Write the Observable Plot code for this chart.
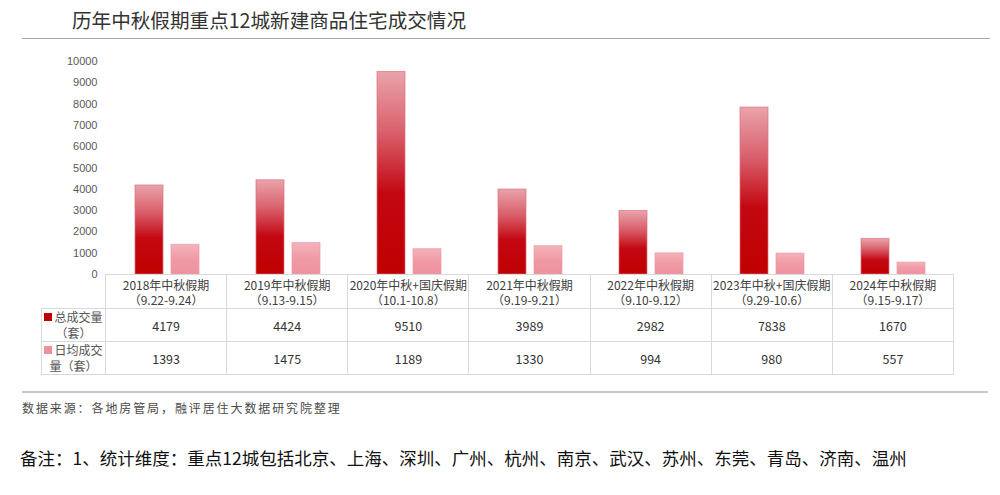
<!DOCTYPE html>
<html>
<head>
<meta charset="utf-8">
<script src="https://cdn.jsdelivr.net/npm/d3@7"></script>
<script src="https://cdn.jsdelivr.net/npm/@observablehq/plot@0.6"></script>
<style>
  body { margin: 0; background: #fff; font-family: "Noto Sans CJK SC", "Noto Sans", sans-serif; }
  #page { position: relative; width: 1000px; height: 495px; overflow: hidden; background: #fff; }
  #title { position: absolute; left: 72px; top: 6px; font-size: 19.6px; line-height: 28px; color: #333; }
  #rule1 { position: absolute; left: 22px; top: 38px; width: 968px; height: 0; border-top: 1px solid #a6a6a6; }
  #chart { position: absolute; left: 0; top: 45px; }
  #chart svg { overflow: visible; }
  #tbl { position: absolute; left: 41px; top: 274px; border-collapse: collapse; table-layout: fixed; width: 912px; }
  #tbl td { border: 1px solid #d9d9d9; text-align: center; color: #404040; font-size: 12px; line-height: 15px; padding: 0; white-space: nowrap; }
  #tbl tr.h td { height: 33px; }
  #tbl tr.r td { height: 32px; font-size: 12.5px; color: #333; }
  #tbl td.corner { border-top: hidden; border-left: hidden; }
  #tbl tr.r td.lab { font-size: 12px; line-height: 16px; color: #555; }
  .sw { display: inline-block; width: 8px; height: 8px; margin-right: 2px; vertical-align: 1px; }
  #rule2 { position: absolute; left: 22px; top: 391px; width: 966px; height: 0; border-top: 2px solid #c9c9c9; }
  #source { position: absolute; left: 22px; top: 399px; font-size: 12px; line-height: 18px; color: #4a4a4a; letter-spacing: 1.9px; }
  #note { position: absolute; left: 20px; top: 446px; font-size: 17.5px; line-height: 24px; color: #111; }
</style>
</head>
<body>
<div id="page">
  <div id="title">历年中秋假期重点12城新建商品住宅成交情况</div>
  <div id="rule1"></div>
  <div id="chart"></div>
  <table id="tbl"></table>
  <div id="rule2"></div>
  <div id="source">数据来源：各地房管局，融评居住大数据研究院整理</div>
  <div id="note">备注：1、统计维度：重点12城包括北京、上海、深圳、广州、杭州、南京、武汉、苏州、东莞、青岛、济南、温州</div>
</div>
<script>
// ---- data ----
const periods = ["2018年中秋假期", "2019年中秋假期", "2020年中秋+国庆假期", "2021年中秋假期", "2022年中秋假期", "2023年中秋+国庆假期", "2024年中秋假期"];
const dateRanges = ["（9.22-9.24）", "（9.13-9.15）", "（10.1-10.8）", "（9.19-9.21）", "（9.10-9.12）", "（9.29-10.6）", "（9.15-9.17）"];
const totalDeals = [4179, 4424, 9510, 3989, 2982, 7838, 1670];
const dailyDeals = [1393, 1475, 1189, 1330, 994, 980, 557];
const seriesNames = ["总成交量（套）", "日均成交量（套）"];
const seriesLabelLines = [["总成交量", "（套）"], ["日均成交", "量（套）"]];
const yTicks = [0, 1000, 2000, 3000, 4000, 5000, 6000, 7000, 8000, 9000, 10000];

const totalRows = periods.map((p, i) => ({period: p, value: totalDeals[i]}));
const dailyRows = periods.map((p, i) => ({period: p, value: dailyDeals[i]}));

const chart = Plot.plot({
  width: 1000,
  height: 240,
  marginLeft: 105,
  marginRight: 47,
  marginTop: 16,
  marginBottom: 11,
  style: {fontFamily: "Liberation Sans, Arial, sans-serif", fontSize: "11px", color: "#595959", background: "transparent"},
  x: {domain: periods, padding: 0, axis: null},
  y: {domain: [0, 10000], ticks: yTicks, tickFormat: d3.format("d"), tickSize: 0, tickPadding: 8, label: null},
  marks: [
    Plot.barY(totalRows, {x: "period", y: "value", insetLeft: 29, insetRight: 64, fill: "url(#gradRed)", stroke: "#d9737f", strokeWidth: 1, strokeOpacity: 0.7}),
    Plot.barY(dailyRows, {x: "period", y: "value", insetLeft: 65, insetRight: 28, fill: "url(#gradPink)", stroke: "#ec9aa5", strokeWidth: 1, strokeOpacity: 0.7})
  ]
});

// gradient definitions
const ns = "http://www.w3.org/2000/svg";
const defs = document.createElementNS(ns, "defs");
defs.innerHTML = `
  <linearGradient id="gradRed" x1="0" y1="0" x2="0" y2="1">
    <stop offset="0" stop-color="#eaa3ab"/>
    <stop offset="0.3" stop-color="#d9606c"/>
    <stop offset="0.6" stop-color="#c30812"/>
    <stop offset="1" stop-color="#c00000"/>
  </linearGradient>
  <linearGradient id="gradPink" x1="0" y1="0" x2="0" y2="1">
    <stop offset="0" stop-color="#f4b3bb"/>
    <stop offset="0.5" stop-color="#f09aa6"/>
    <stop offset="1" stop-color="#ee929e"/>
  </linearGradient>`;
chart.insertBefore(defs, chart.firstChild);
document.getElementById("chart").appendChild(chart);

// data table under the chart
const tbl = document.getElementById("tbl");
const colg = document.createElement("colgroup");
colg.innerHTML = `<col style="width:64px">` + periods.map(() => `<col style="width:${848 / periods.length}px">`).join("");
tbl.appendChild(colg);
const head = document.createElement("tr");
head.className = "h";
head.innerHTML = `<td class="corner"></td>` + periods.map((p, i) => `<td>${p}<br>${dateRanges[i]}</td>`).join("");
tbl.appendChild(head);
const swColors = ["#c00000", "#f08f9e"];
[totalDeals, dailyDeals].forEach((vals, s) => {
  const tr = document.createElement("tr");
  tr.className = "r";
  tr.innerHTML = `<td class="lab" title="${seriesNames[s]}"><span class="sw" style="background:${swColors[s]}"></span>${seriesLabelLines[s][0]}<br>${seriesLabelLines[s][1]}</td>` +
    vals.map(v => `<td>${v}</td>`).join("");
  tbl.appendChild(tr);
});
</script>
</body>
</html>
